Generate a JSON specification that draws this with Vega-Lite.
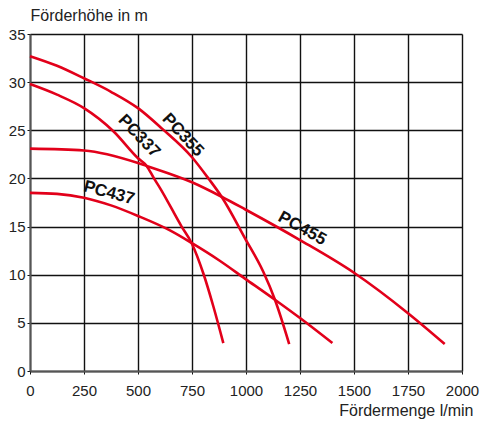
{
  "$schema": "https://vega.github.io/schema/vega-lite/v6.json",
  "width": 432,
  "height": 337,
  "autosize": "none",
  "padding": {"left": 30, "top": 34, "right": 21, "bottom": 50},
  "background": "white",
  "config": {"view": {"stroke": null}, "font": "Liberation Sans"},
  "datasets": {
    "curves": [
      {"pump": "PC355", "q": 0, "h": 32.7},
      {"pump": "PC355", "q": 125, "h": 31.7},
      {"pump": "PC355", "q": 250, "h": 30.4},
      {"pump": "PC355", "q": 375, "h": 29.0},
      {"pump": "PC355", "q": 500, "h": 27.3},
      {"pump": "PC355", "q": 610, "h": 25.2},
      {"pump": "PC355", "q": 750, "h": 22.2},
      {"pump": "PC355", "q": 826, "h": 20.0},
      {"pump": "PC355", "q": 887, "h": 18.1},
      {"pump": "PC355", "q": 995, "h": 13.8},
      {"pump": "PC355", "q": 1080, "h": 10.3},
      {"pump": "PC355", "q": 1134, "h": 7.4},
      {"pump": "PC355", "q": 1200, "h": 2.8},
      {"pump": "PC337", "q": 0, "h": 29.8},
      {"pump": "PC337", "q": 125, "h": 28.7},
      {"pump": "PC337", "q": 250, "h": 27.3},
      {"pump": "PC337", "q": 386, "h": 24.9},
      {"pump": "PC337", "q": 500, "h": 22.1},
      {"pump": "PC337", "q": 540, "h": 21.3},
      {"pump": "PC337", "q": 574, "h": 20.0},
      {"pump": "PC337", "q": 602, "h": 19.0},
      {"pump": "PC337", "q": 702, "h": 15.0},
      {"pump": "PC337", "q": 748, "h": 13.3},
      {"pump": "PC337", "q": 803, "h": 10.1},
      {"pump": "PC337", "q": 849, "h": 6.7},
      {"pump": "PC337", "q": 895, "h": 2.9},
      {"pump": "PC455", "q": 0, "h": 23.1},
      {"pump": "PC455", "q": 250, "h": 22.9},
      {"pump": "PC455", "q": 500, "h": 21.6},
      {"pump": "PC455", "q": 540, "h": 21.3},
      {"pump": "PC455", "q": 750, "h": 19.6},
      {"pump": "PC455", "q": 887, "h": 18.1},
      {"pump": "PC455", "q": 995, "h": 16.8},
      {"pump": "PC455", "q": 1250, "h": 13.6},
      {"pump": "PC455", "q": 1500, "h": 10.2},
      {"pump": "PC455", "q": 1750, "h": 6.0},
      {"pump": "PC455", "q": 1920, "h": 2.8},
      {"pump": "PC437", "q": 0, "h": 18.5},
      {"pump": "PC437", "q": 125, "h": 18.4},
      {"pump": "PC437", "q": 250, "h": 18.0},
      {"pump": "PC437", "q": 375, "h": 17.2},
      {"pump": "PC437", "q": 500, "h": 16.1},
      {"pump": "PC437", "q": 648, "h": 14.6},
      {"pump": "PC437", "q": 748, "h": 13.3},
      {"pump": "PC437", "q": 875, "h": 11.5},
      {"pump": "PC437", "q": 995, "h": 9.6},
      {"pump": "PC437", "q": 1134, "h": 7.4},
      {"pump": "PC437", "q": 1250, "h": 5.5},
      {"pump": "PC437", "q": 1400, "h": 2.9}
    ],
    "labels": [
      {"pump": "PC355", "q": 708, "h": 24.5},
      {"pump": "PC337", "q": 505, "h": 24.4},
      {"pump": "PC437", "q": 366, "h": 18.5},
      {"pump": "PC455", "q": 1260, "h": 14.8}
    ]
  },
  "layer": [
    {
      "data": {"name": "curves"},
      "mark": {"type": "line", "color": "#e2001a", "strokeWidth": 2.6, "interpolate": "monotone"},
      "encoding": {
        "x": {
          "field": "q", "type": "quantitative",
          "scale": {"domain": [0, 2000], "nice": false},
          "axis": {
            "values": [0, 250, 500, 750, 1000, 1250, 1500, 1750, 2000],
            "format": "d",
            "title": "Fördermenge l/min",
            "titleFontSize": 16, "titleFontWeight": "normal", "titleColor": "#222",
            "titleX": 443, "titleY": 44, "titleAlign": "right", "titleBaseline": "alphabetic", "titleAnchor": null,
            "labelFontSize": 15, "labelColor": "#222", "labelPadding": 9, "labelFlush": false,
            "grid": true, "gridColor": "#111", "gridWidth": 1.4,
            "domainColor": "#555", "domainWidth": 2,
            "ticks": true, "tickSize": 3, "tickColor": "#111"
          }
        },
        "y": {
          "field": "h", "type": "quantitative",
          "scale": {"domain": [0, 35], "nice": false},
          "axis": {
            "values": [0, 5, 10, 15, 20, 25, 30, 35],
            "title": "Förderhöhe in m",
            "titleFontSize": 16, "titleFontWeight": "normal", "titleColor": "#222",
            "titleAngle": 0, "titleX": 0, "titleY": -14, "titleAlign": "left", "titleBaseline": "alphabetic", "titleAnchor": null,
            "labelFontSize": 15, "labelColor": "#222", "labelPadding": 2, "labelFlush": false,
            "grid": true, "gridColor": "#111", "gridWidth": 1.4,
            "domainColor": "#555", "domainWidth": 2,
            "ticks": true, "tickSize": 3, "tickColor": "#111"
          }
        },
        "detail": {"field": "pump", "type": "nominal"}
      }
    },
    {
      "data": {"name": "labels"},
      "transform": [{"filter": "datum.pump == 'PC355'"}],
      "mark": {"type": "text", "fontWeight": "bold", "fontSize": 17, "angle": 47, "align": "center", "baseline": "middle", "color": "#111"},
      "encoding": {"x": {"field": "q", "type": "quantitative"}, "y": {"field": "h", "type": "quantitative"}, "text": {"field": "pump"}}
    },
    {
      "data": {"name": "labels"},
      "transform": [{"filter": "datum.pump == 'PC337'"}],
      "mark": {"type": "text", "fontWeight": "bold", "fontSize": 17, "angle": 46, "align": "center", "baseline": "middle", "color": "#111"},
      "encoding": {"x": {"field": "q", "type": "quantitative"}, "y": {"field": "h", "type": "quantitative"}, "text": {"field": "pump"}}
    },
    {
      "data": {"name": "labels"},
      "transform": [{"filter": "datum.pump == 'PC437'"}],
      "mark": {"type": "text", "fontWeight": "bold", "fontSize": 17, "angle": 15, "align": "center", "baseline": "middle", "color": "#111"},
      "encoding": {"x": {"field": "q", "type": "quantitative"}, "y": {"field": "h", "type": "quantitative"}, "text": {"field": "pump"}}
    },
    {
      "data": {"name": "labels"},
      "transform": [{"filter": "datum.pump == 'PC455'"}],
      "mark": {"type": "text", "fontWeight": "bold", "fontSize": 17, "angle": 29, "align": "center", "baseline": "middle", "color": "#111"},
      "encoding": {"x": {"field": "q", "type": "quantitative"}, "y": {"field": "h", "type": "quantitative"}, "text": {"field": "pump"}}
    }
  ]
}
